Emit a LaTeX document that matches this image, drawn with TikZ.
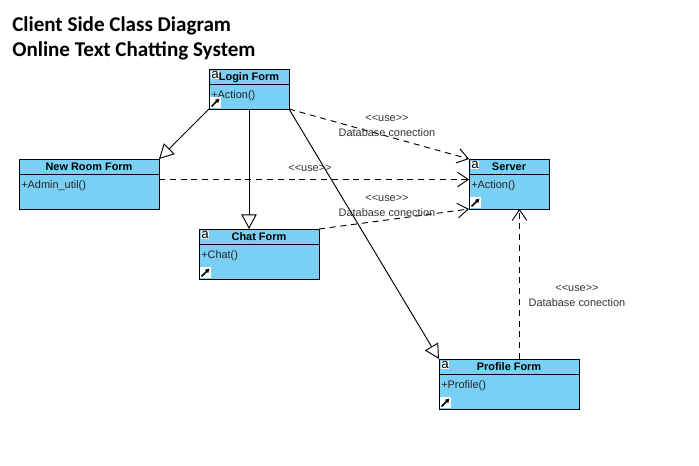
\documentclass[tikz,border=0pt]{standalone}
\usepackage{fontspec}
\setmainfont{Liberation Sans}
\newfontfamily\titlefont{Carlito}
\usetikzlibrary{arrows.meta, positioning}
\definecolor{classblue}{RGB}{122,207,245}
\tikzstyle{classhead} = [rectangle, draw=black, fill=classblue, line width=0.7pt, outer sep=0pt, inner sep=0pt, minimum height=15*0.75pt, text height=7pt, text depth=0.6pt, font=\fontsize{8.2}{9}\selectfont\bfseries]
\tikzstyle{classbody} = [rectangle, draw=black, fill=classblue, line width=0.7pt, outer sep=0pt, inner sep=0pt]
\tikzstyle{classop} = [anchor=north west, inner sep=0pt, text height=6pt, text depth=2pt, font=\fontsize{8.2}{9}\selectfont, text=black!85]
\tikzstyle{classa} = [anchor=north west, fill=white, inner sep=0.3pt, text height=5.5pt, text depth=0pt, font=\fontsize{10}{10}\selectfont]
\tikzstyle{classicon} = [anchor=south west, fill=white, inner sep=0pt, minimum size=11*0.75pt, xshift=0.35pt, yshift=0.35pt]
\tikzstyle{iconarrow} = [line width=1.1pt, -{Latex[length=3.2pt,width=3.8pt]}, shorten <=2.2pt, shorten >=1.5pt]
\tikzstyle{lbl} = [font=\fontsize{8.2}{9}\selectfont, inner sep=0pt, text=black!80]
\tikzstyle{inherit} = [line width=0.7pt, -{Triangle[fill=white, length=11pt, width=11.5pt]}]
\tikzstyle{use} = [line width=0.7pt, dash pattern=on 4.5pt off 3.6pt, -{Straight Barb[length=8pt, width=11pt]}]
% name, left, top, width, height, title, operation
\newcommand{\classbox}[7]{
    \node (#1) [classhead, minimum width=#4*0.75pt, anchor=north west] at (#2,#3) {#6};
    \node (#1body) [classbody, minimum width=#4*0.75pt, minimum height=(#5-15)*0.75pt, below=0pt of #1] {};
    \node (#1op) [classop, xshift=1.5pt, yshift=-4.5pt] at (#1body.north west) {#7};
}
% the two small marks in a class box
\newcommand{\classmarks}[1]{
    \node (#1a) [classa, xshift=1.3pt, yshift=-1.2pt] at (#1.north west) {a};
    \node (#1icon) [classicon] at (#1body.south west) {};
    \draw [iconarrow] (#1icon.south west) -- (#1icon.north east);
}

\begin{document}
\begin{tikzpicture}[x=0.75pt, y=-0.75pt]
            \useasboundingbox (0,0) rectangle (699,466);

            % Place nodes
            \node (title) [anchor=north west, inner sep=0pt, align=left, font=\titlefont\fontsize{15.8}{19.4}\selectfont\bfseries] at (12,16) {Client Side Class Diagram\\Online Text Chatting System};
            \classbox{login}{209}{69}{80}{40}{Login Form}{+Action()}
            \classmarks{login}
            \classbox{newroom}{19}{159}{140}{50}{New Room Form}{+Admin\_util()}
            \classbox{chat}{199}{229}{120}{50}{Chat Form}{+Chat()}
            \classmarks{chat}
            \classbox{server}{469}{159}{80}{50}{Server}{+Action()}
            \classmarks{server}
            \classbox{profile}{439}{359}{140}{50}{Profile Form}{+Profile()}
            \classmarks{profile}

            % Free ends of the edges
            \coordinate (loginout) at (249,109);
            \coordinate (chatin) at (249,229);
            \coordinate (newroomout) at (159,179.5);
            \coordinate (serverin) at (469,179.5);
            \coordinate (profileout) at (519.5,359);
            \coordinate (serverlow) at (519.5,209);

            % Draw edges
            \draw [inherit] (loginbody.south west) -- (newroom.north east);
            \draw [inherit] (loginout) -- (chatin);
            \draw [inherit] (loginbody.south east) -- (profile.north west);
            \draw [use] (loginbody.south east) -- (server.north west);
            \draw [use] (newroomout) -- (serverin);
            \draw [use] (chat.north east) -- (serverbody.south west);
            \draw [use] (profileout) -- (serverlow);

            % Edge labels
            \node (use1) [lbl] at (387,118) {<{}<use>{}>};
            \node (db1) [lbl] at (387,132.5) {Database conection};
            \node (use2) [lbl] at (310,168) {<{}<use>{}>};
            \node (use3) [lbl] at (387,198) {<{}<use>{}>};
            \node (db3) [lbl] at (387,212.5) {Database conection};
            \node (use4) [lbl] at (577,288) {<{}<use>{}>};
            \node (db4) [lbl] at (577,302.5) {Database conection};
        \end{tikzpicture}
\end{document}
